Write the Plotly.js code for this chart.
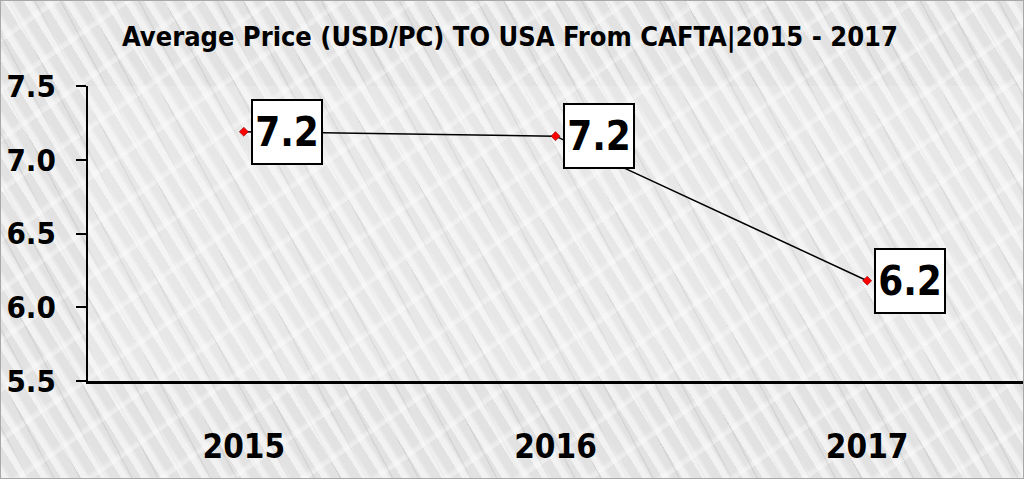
<!DOCTYPE html>
<html>
<head>
<meta charset="utf-8">
<script src="https://cdn.plot.ly/plotly-3.0.1.min.js"></script>
<style>
html,body{margin:0;padding:0;}
#wrap{width:1024px;height:479px;box-sizing:border-box;border:1px solid #a8a8a8;
background-color:#e2e2e2;
background-image:
 repeating-linear-gradient(58deg, rgba(255,255,255,0.55) 0px, rgba(255,255,255,0.55) 5px, rgba(255,255,255,0) 9px, rgba(255,255,255,0) 17px),
 repeating-linear-gradient(62deg, rgba(150,150,150,0.18) 0px, rgba(150,150,150,0.18) 1px, rgba(0,0,0,0) 2px, rgba(0,0,0,0) 23px),
 repeating-linear-gradient(-35deg, rgba(255,255,255,0.35) 0px, rgba(255,255,255,0.35) 3px, rgba(255,255,255,0) 7px, rgba(255,255,255,0) 41px);}
#chart{width:1022px;height:477px;}
</style>
</head>
<body>
<div id="wrap"><div id="chart"></div></div>
<script>
var years = ['2015', '2016', '2017'];
var avgPrice = [7.19, 7.16, 6.18];
var yTicks = [5.5, 6.0, 6.5, 7.0, 7.5];
var titleText = 'Average Price (USD/PC) TO USA From CAFTA|2015 - 2017';

var FONT = '"Liberation Sans Narrow", "DejaVu Sans Condensed", "Noto Sans", sans-serif';

var trace = {
  x: years, y: avgPrice, type: 'scatter', mode: 'lines+markers',
  line: {color: '#000000', width: 1.5},
  marker: {symbol: 'diamond', size: 7, color: '#ff0000', line: {color: '#7a0000', width: 0.5}},
  hoverinfo: 'skip'
};

var annotations = years.map(function (yr, i) {
  return {
    x: i, y: avgPrice[i], xref: 'x', yref: 'y',
    text: '<b>' + avgPrice[i].toFixed(1) + '</b>',
    showarrow: false, xanchor: 'left', yanchor: 'middle', xshift: 7,
    width: 62, height: 56, align: 'center', valign: 'middle',
    font: {family: FONT, size: 40, color: '#000000'},
    bgcolor: '#ffffff', bordercolor: '#000000', borderwidth: 2, borderpad: 3
  };
});

var layout = {
  width: 1022, height: 477,
  margin: {l: 87, r: 0, t: 85, b: 97},
  paper_bgcolor: 'rgba(0,0,0,0)',
  plot_bgcolor: 'rgba(255,255,255,0.18)',
  showlegend: false,
  title: {text: '<b>' + titleText + '</b>', x: 0.498, xanchor: 'center', y: 0.925, yanchor: 'middle',
          font: {family: FONT, size: 27, color: '#000000'}},
  xaxis: {
    type: 'category', range: [-0.5, 2.5],
    showline: true, linecolor: '#000000', linewidth: 3,
    showgrid: false, zeroline: false,
    ticks: 'outside', ticklen: 34, tickcolor: 'rgba(0,0,0,0)',
    tickfont: {family: FONT, size: 33, color: '#000000'},
    tickprefix: '<b>', ticksuffix: '</b>'
  },
  yaxis: {
    range: [5.5, 7.5], tickvals: yTicks, ticktext: yTicks.map(function (v) { return '<b>' + v.toFixed(1) + '</b>'; }),
    showline: true, linecolor: '#000000', linewidth: 2,
    showgrid: false, zeroline: false,
    ticks: 'outside', ticklen: 10, tickwidth: 2, tickcolor: '#000000',
    ticklabelstandoff: 14,
    tickfont: {family: FONT, size: 31, color: '#000000'}
  },
  annotations: annotations
};

Plotly.newPlot('chart', [trace], layout, {displayModeBar: false, staticPlot: true});
</script>
</body>
</html>
